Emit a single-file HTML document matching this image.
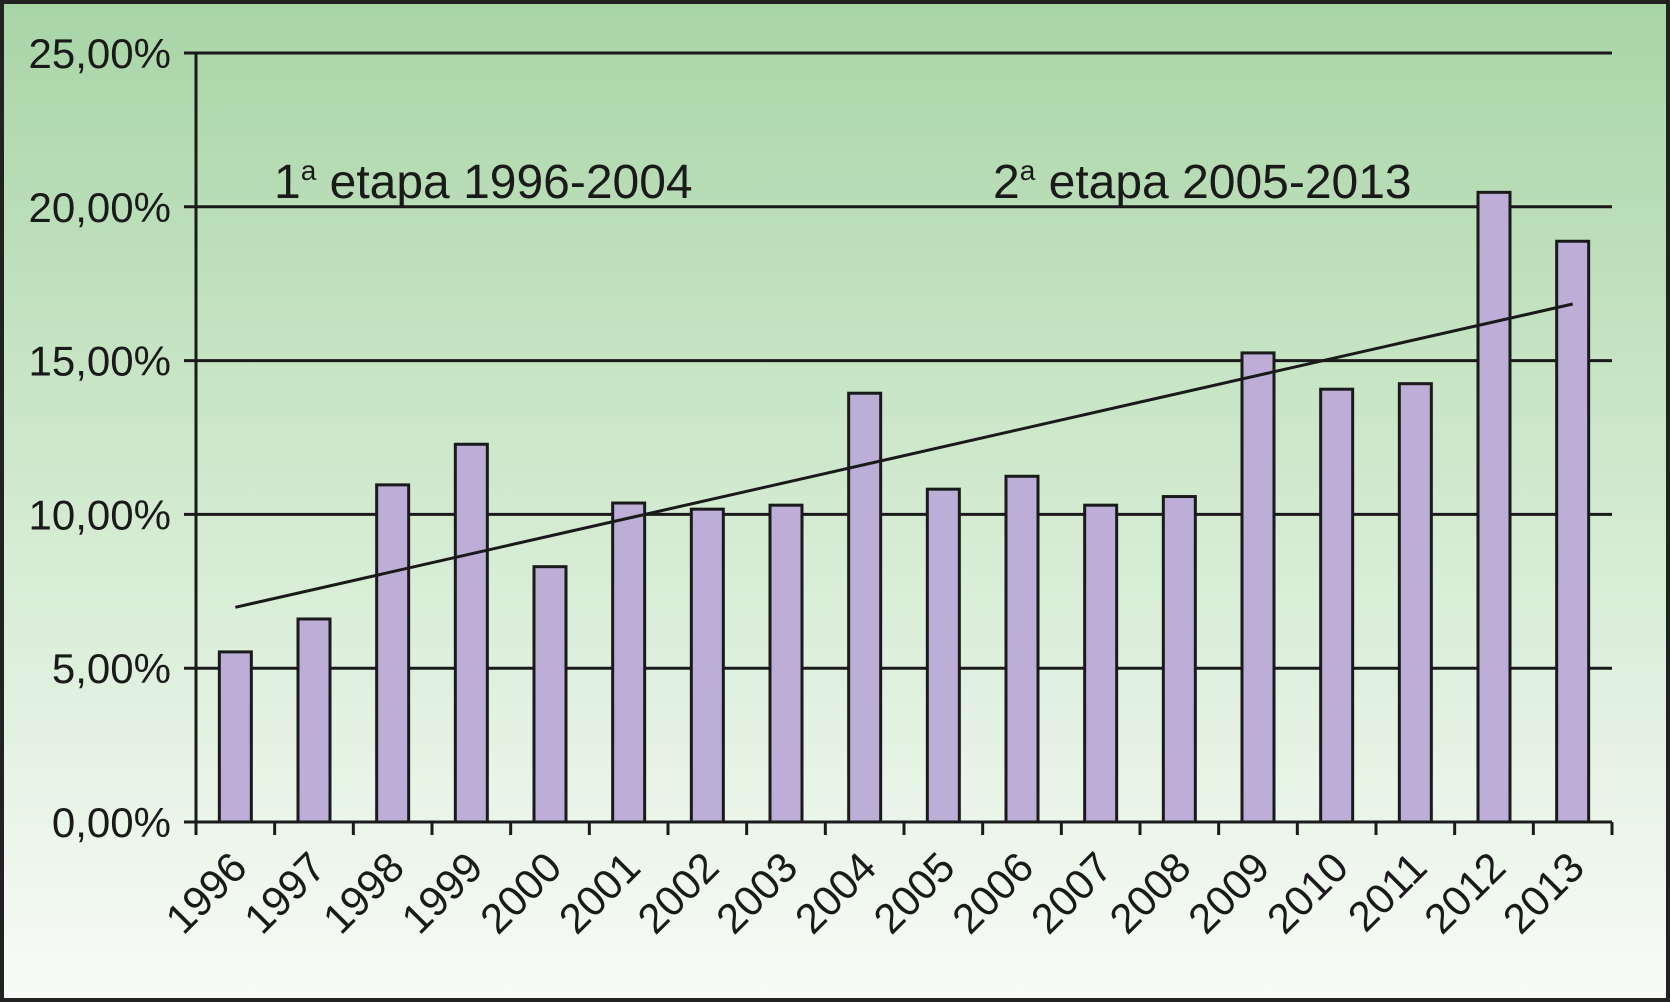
<!DOCTYPE html>
<html><head><meta charset="utf-8"><style>
html,body{margin:0;padding:0}
body{width:1670px;height:1002px;overflow:hidden}
svg{display:block;font-family:"Liberation Sans",Arial,sans-serif}
</style></head><body>
<svg id="chart" width="1670" height="1002" viewBox="0 0 1670 1002">
<defs><linearGradient id="bg" x1="0" y1="0" x2="0" y2="1">
<stop offset="0" stop-color="#a8d5a6"/><stop offset="0.55" stop-color="#d6ecd4"/><stop offset="1" stop-color="#f8fbf7"/></linearGradient></defs>
<rect x="2" y="2" width="1666" height="998" fill="url(#bg)" stroke="#222" stroke-width="4"/>
<g id="grid"></g><g id="bars"></g><g id="axes"></g><g id="labels"></g>
<text x="274" y="198" font-size="48" fill="#1a1a1a">1<tspan dy="-18" font-size="28">a</tspan><tspan dy="18"> etapa 1996-2004</tspan></text>
<text x="993" y="198" font-size="48" fill="#1a1a1a">2<tspan dy="-18" font-size="28">a</tspan><tspan dy="18"> etapa 2005-2013</tspan></text>
</svg>
<script>
const categories=["1996","1997","1998","1999","2000","2001","2002","2003","2004","2005","2006","2007","2008","2009","2010","2011","2012","2013"];
const values=[5.53,6.6,10.96,12.28,8.3,10.37,10.17,10.3,13.94,10.82,11.24,10.3,10.58,15.25,14.07,14.25,20.47,18.88];
const trendStart=6.98;
const trendEnd=16.84;
const yTicks=[0,5,10,15,20,25];
const yTickLabels=["0,00%","5,00%","10,00%","15,00%","20,00%","25,00%"];
const NS="http://www.w3.org/2000/svg";
const X0=196,X1=1612,Y0=822,Y1=53,YMAX=25;
const cw=(X1-X0)/categories.length;
function y(v){return Y0-(v/YMAX)*(Y0-Y1);}
function xc(i){return X0+cw*(i+0.5);}
function mk(tag,attrs,parent){const e=document.createElementNS(NS,tag);for(const k in attrs)e.setAttribute(k,attrs[k]);document.getElementById(parent).appendChild(e);return e;}
yTicks.forEach((t,i)=>{
  const l=mk('line',{x1:X0-12,x2:X1,y1:y(t),y2:y(t),stroke:'#1a1a1a','stroke-width':3},'grid');
  
  
  const tx=mk('text',{x:171,y:y(t)+15,'text-anchor':'end','font-size':42,fill:'#1a1a1a'},'labels');
  tx.textContent=yTickLabels[i];
  
  
});
values.forEach((v,i)=>{
  const r=mk('rect',{x:xc(i)-16,y:y(v),width:32,height:Y0-y(v),fill:'#bcaed6',stroke:'#1a1a1a','stroke-width':3},'bars');
  
  
});
const ax=mk('line',{x1:X0,x2:X0,y1:Y1,y2:Y0,stroke:'#1a1a1a','stroke-width':3},'axes');


const bx=mk('line',{x1:X0,x2:X1,y1:Y0,y2:Y0,stroke:'#1a1a1a','stroke-width':3},'axes');


for(let i=0;i<=categories.length;i++){
  const tk=mk('line',{x1:X0+cw*i,x2:X0+cw*i,y1:Y0,y2:Y0+13,stroke:'#1a1a1a','stroke-width':3},'axes');
  
  
}
categories.forEach((c,i)=>{
  const cx=xc(i)+14,cy=870;
  const t=mk('text',{x:cx,y:cy,'text-anchor':'end','font-size':42,fill:'#1a1a1a',transform:`rotate(-45 ${cx} ${cy})`},'labels');
  t.textContent=c;
  
  
});
const tl=mk('line',{x1:xc(0),y1:y(trendStart),x2:xc(categories.length-1),y2:y(trendEnd),stroke:'#1a1a1a','stroke-width':3},'axes');


</script>
</body></html>
